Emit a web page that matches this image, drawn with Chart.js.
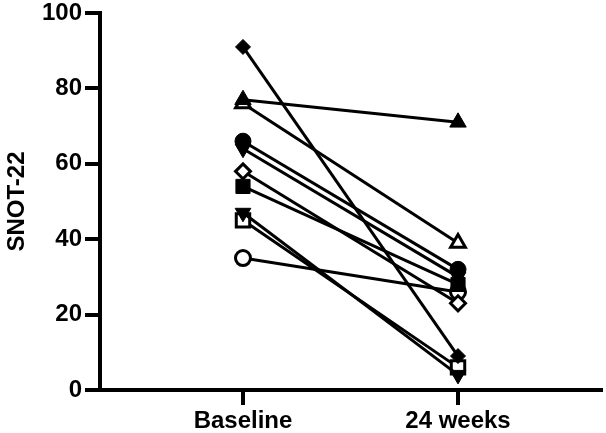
<!DOCTYPE html>
<html>
<head>
<meta charset="utf-8">
<script src="https://cdn.jsdelivr.net/npm/chart.js@4/dist/chart.umd.min.js"></script>
<style>
  html, body { margin: 0; padding: 0; background: #fff; }
  #wrap { width: 606px; height: 433px; }
</style>
</head>
<body>
<div id="wrap"><canvas id="c" width="606" height="433"></canvas></div>
<script>
/* SNOT-22 per patient, baseline vs 24 weeks */
const TIMEPOINTS = ['Baseline', '24 weeks'];
const BASELINE = [91, 77, 76, 66, 64, 58, 54, 47, 45, 35];
const WEEK24   = [9, 71, 39, 32, 30, 23, 28, 4, 6, 26];
const Y_TICKS  = [0, 20, 40, 60, 80, 100];

// marker per patient: [pointStyle, filled, rotation, radius]
const MARKERS = [
    ['rectRot', true, 0, 7.5],
    ['triangle', true, 0, 9.5],
    ['triangle', false, 0, 8.5],
    ['circle', true, 0, 8],
    ['triangle', true, 180, 9],
    ['rectRot', false, 0, 7.5],
    ['rect', true, 0, 10],
    ['triangle', true, 180, 9],
    ['rect', false, 0, 9.5],
    ['circle', false, 0, 7.5],
];

const FONT = { family: "'Liberation Sans', Arial, sans-serif", weight: 'bold', size: 24 };

const datasets = BASELINE.map((b, i) => {
    const [style, filled, rot, r] = MARKERS[i];
    return {
        data: [{ x: 0, y: b }, { x: 1, y: WEEK24[i] }],
        borderColor: '#000', borderWidth: 3,
        pointStyle: style, pointRotation: rot, pointRadius: r,
        pointBackgroundColor: filled ? '#000' : '#fff',
        pointBorderColor: '#000', pointBorderWidth: filled ? 1 : 3,
        clip: false,
    };
});

new Chart(document.getElementById('c').getContext('2d'), {
    type: 'line',
    data: { datasets },
    options: {
        responsive: false, animation: false,
        layout: { autoPadding: false, padding: { top: 13, right: 5, left: 0, bottom: 0 } },
        plugins: { legend: { display: false }, tooltip: { enabled: false } },
        scales: {
            x: {
                type: 'linear', min: -0.665, max: 1.665,
                afterBuildTicks: s => { s.ticks = TIMEPOINTS.map((_, i) => ({ value: i })); },
                afterFit: s => { s.height = 43; s.paddingLeft = 0; s.paddingRight = 0; },
                ticks: { callback: v => TIMEPOINTS[v] ?? '', color: '#000', font: FONT, padding: 2, maxRotation: 0 },
                grid: { drawOnChartArea: false, drawTicks: true, tickLength: 15, lineWidth: 4, color: '#000' },
                border: { display: true, width: 4, color: '#000' },
            },
            y: {
                min: 0, max: 100,
                afterBuildTicks: s => { s.ticks = Y_TICKS.map(v => ({ value: v })); },
                afterFit: s => { s.width = 100; s.paddingTop = 0; s.paddingBottom = 0; },
                ticks: { color: '#000', font: FONT, padding: 3 },
                grid: { drawOnChartArea: false, drawTicks: true, tickLength: 15, lineWidth: 4, color: '#000' },
                border: { display: true, width: 4, color: '#000' },
                title: { display: true, text: 'SNOT-22', color: '#000', font: { ...FONT, size: 24 }, padding: { top: 3, bottom: 0 } },
            },
        },
    },
});
</script>
</body>
</html>
